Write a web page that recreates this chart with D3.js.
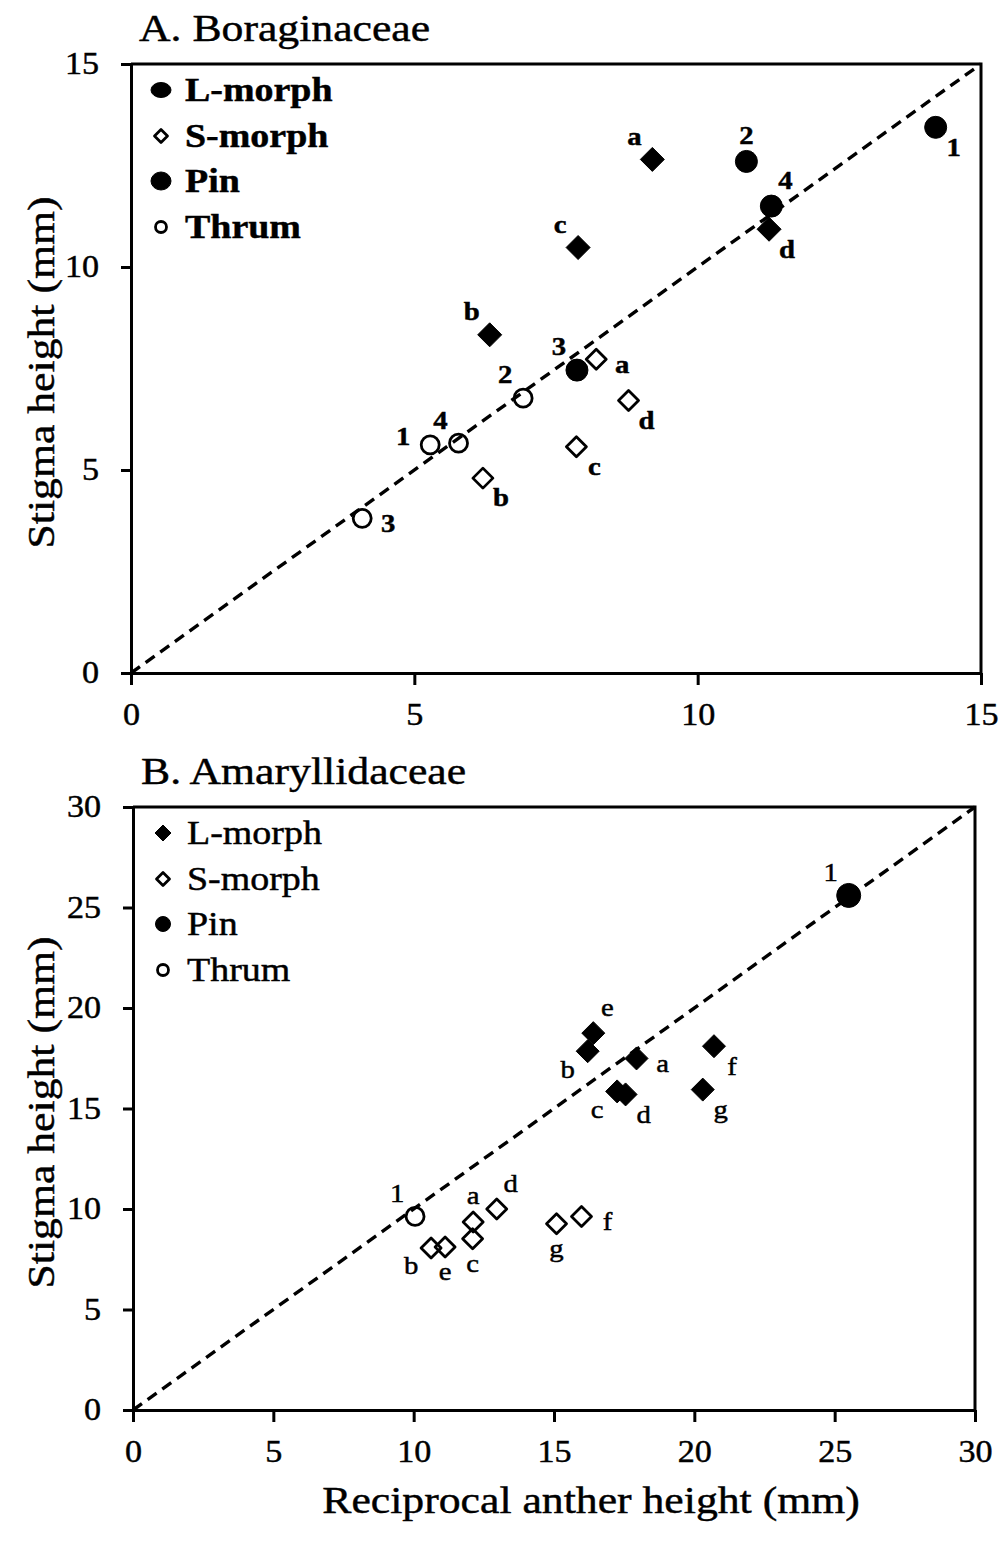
<!DOCTYPE html>
<html>
<head>
<meta charset="utf-8">
<script src="https://cdn.jsdelivr.net/npm/d3@7"></script>
<style>
  body { margin: 0; background: #fff; }
  svg text { font-family: "Liberation Serif", "Times New Roman", serif; fill: #000; stroke: #000; stroke-width: 0.45px; }
</style>
</head>
<body>
<div id="chart"></div>
<script>
// ---- data: panel A, Boraginaceae (x = reciprocal anther height, y = stigma height, mm)
const lMorphA = [
  { id: "a", x: 9.2, y: 12.65 }, { id: "b", x: 6.33, y: 8.33 },
  { id: "c", x: 7.89, y: 10.48 }, { id: "d", x: 11.26, y: 10.93 }
];
const sMorphA = [
  { id: "a", x: 8.21, y: 7.73 }, { id: "b", x: 6.21, y: 4.80 },
  { id: "c", x: 7.86, y: 5.57 }, { id: "d", x: 8.78, y: 6.71 }
];
const pinA = [
  { id: "1", x: 14.2, y: 13.44 }, { id: "2", x: 10.86, y: 12.6 },
  { id: "3", x: 7.87, y: 7.46 }, { id: "4", x: 11.3, y: 11.5 }
];
const thrumA = [
  { id: "1", x: 5.28, y: 5.62 }, { id: "2", x: 6.92, y: 6.77 },
  { id: "3", x: 4.08, y: 3.81 }, { id: "4", x: 5.78, y: 5.66 }
];
const ticksA = [0, 5, 10, 15];

// ---- data: panel B, Amaryllidaceae
const lMorphB = [
  { id: "a", x: 17.94, y: 17.49 }, { id: "b", x: 16.2, y: 17.85 },
  { id: "c", x: 17.25, y: 15.85 }, { id: "d", x: 17.55, y: 15.7 },
  { id: "e", x: 16.4, y: 18.75 }, { id: "f", x: 20.7, y: 18.1 },
  { id: "g", x: 20.3, y: 15.94 }
];
const sMorphB = [
  { id: "a", x: 12.12, y: 9.35 }, { id: "b", x: 10.62, y: 8.06 },
  { id: "c", x: 12.1, y: 8.52 }, { id: "d", x: 12.96, y: 10.0 },
  { id: "e", x: 11.12, y: 8.11 }, { id: "f", x: 15.98, y: 9.63 },
  { id: "g", x: 15.09, y: 9.27 }
];
const pinB = [{ id: "1", x: 25.5, y: 25.6 }];
const thrumB = [{ id: "1", x: 10.05, y: 9.63 }];
const ticksB = [0, 5, 10, 15, 20, 25, 30];

const legendNames = ["L-morph", "S-morph", "Pin", "Thrum"];

// where each point label sits (compass direction from the marker)
const labelDirA = {
  L: { a: "NW", b: "NW", c: "NW", d: "SE" },
  S: { a: "E", b: "SE", c: "SE", d: "SE" },
  Pin: { "1": "SE", "2": "N", "3": "NW", "4": "NE" },
  Thrum: { "1": "W", "2": "NW", "3": "E", "4": "NW" }
};
const labelDirB = {
  L: { a: "E", b: "SW", c: "SW", d: "SE", e: "NE", f: "SE", g: "SE" },
  S: { a: "N", b: "SW", c: "S", d: "NE", e: "S", f: "E", g: "S" },
  Pin: { "1": "NW" },
  Thrum: { "1": "NW" }
};
const dirOffset = {
  N: [0, -26], NE: [14, -25], E: [26, 5], SE: [18, 20],
  S: [0, 25], SW: [-20, 18], W: [-27, -8], NW: [-18, -23]
};

const SX = 1.15; // the scanned figure's type is a little wide
const width = 1007, height = 1555;

const svg = d3.select("#chart").append("svg")
  .attr("width", width)
  .attr("height", height);

function addText(g, x, y, str, size, opt = {}) {
  const rot = opt.rotate ? " rotate(-90)" : "";
  return g.append("text")
    .attr("transform", `translate(${x},${y})${rot} scale(${SX},1)`)
    .attr("text-anchor", opt.anchor || "start")
    .attr("dominant-baseline", "central")
    .style("font-size", size + "px")
    .style("font-weight", opt.bold ? "bold" : "normal")
    .text(str);
}

function diamondPath(h) {
  return `M0,${-h}L${h},0L0,${h}L${-h},0Z`;
}

function drawMarker(g, shape, cx, cy, s) {
  if (shape.kind === "diamond") {
    g.append("path")
      .attr("d", diamondPath(s.h))
      .attr("transform", `translate(${cx},${cy})`)
      .attr("fill", shape.filled ? "#000" : "none")
      .attr("stroke", "#000")
      .attr("stroke-width", shape.filled ? 1 : 2.8)
      .attr("stroke-linejoin", "round");
  } else {
    g.append("ellipse")
      .attr("cx", cx).attr("cy", cy)
      .attr("rx", s.rx).attr("ry", s.ry)
      .attr("fill", shape.filled ? "#000" : "none")
      .attr("stroke", "#000")
      .attr("stroke-width", shape.filled ? 1 : 2.8);
  }
}

function drawPanel(cfg) {
  const g = svg.append("g");
  const x = d3.scaleLinear().domain([0, cfg.max]).range([cfg.left, cfg.right]);
  const y = d3.scaleLinear().domain([0, cfg.max]).range([cfg.bottom, cfg.top]);

  // frame: top and right edges
  g.append("path")
    .attr("d", `M${cfg.left},${cfg.top}H${cfg.right}V${cfg.bottom}`)
    .attr("fill", "none").attr("stroke", "#000").attr("stroke-width", 3);

  const xAxis = g.append("g")
    .attr("transform", `translate(0,${cfg.bottom})`)
    .call(d3.axisBottom(x).tickValues(cfg.ticks).tickSize(12).tickSizeOuter(0).tickPadding(18));
  const yAxis = g.append("g")
    .attr("transform", `translate(${cfg.left},0)`)
    .call(d3.axisLeft(y).tickValues(cfg.ticks).tickSize(10).tickSizeOuter(0));

  const TX = 1.1;
  [xAxis, yAxis].forEach(ax => {
    ax.select(".domain").attr("stroke-width", 3);
    ax.selectAll(".tick line").attr("stroke-width", 3);
    ax.selectAll("text")
      .style("font-family", "Liberation Serif, serif")
      .style("font-size", "31px")
      .attr("transform", `scale(${TX},1)`);
  });
  yAxis.selectAll("text").attr("x", -32 / TX);

  // 1:1 line
  g.append("line")
    .attr("x1", x(0)).attr("y1", y(0))
    .attr("x2", x(cfg.max)).attr("y2", y(cfg.max))
    .attr("stroke", "#000")
    .attr("stroke-width", 3.4)
    .attr("stroke-dasharray", "11,7");

  // points
  cfg.series.forEach(se => {
    se.data.forEach(d => {
      const cx = x(d.x), cy = y(d.y);
      drawMarker(g, se.shape, cx, cy, se.size);
      const off = dirOffset[cfg.labelDir[se.key][d.id]];
      addText(g, cx + off[0], cy + off[1], d.id, 25, { anchor: "middle", bold: cfg.boldLabels });
    });
  });

  // legend
  const legRows = [26, 72, 117, 163];
  cfg.series.forEach((se, i) => {
    const ly = cfg.top + legRows[i];
    drawMarker(g, se.legendShape || se.shape, cfg.left + 30, ly, se.legendSize);
    addText(g, cfg.left + 54, ly, legendNames[i], 33, { bold: cfg.boldLegend });
  });

  // titles
  addText(g, cfg.left + 8, cfg.top - 36, cfg.title, 38);
  addText(g, 41, (cfg.top + cfg.bottom) / 2 + 4, "Stigma height (mm)", 38,
    { anchor: "middle", rotate: true });
  return { x, y };
}

drawPanel({
  left: 131, right: 981, top: 64, bottom: 673, max: 15, ticks: ticksA,
  title: "A. Boraginaceae", labelDir: labelDirA, boldLabels: true, boldLegend: true,
  series: [
    { key: "L", data: lMorphA, shape: { kind: "diamond", filled: true }, size: { h: 12 },
      legendShape: { kind: "circle", filled: true }, legendSize: { rx: 10, ry: 7.5 } },
    { key: "S", data: sMorphA, shape: { kind: "diamond", filled: false }, size: { h: 10 },
      legendSize: { h: 6.5 } },
    { key: "Pin", data: pinA, shape: { kind: "circle", filled: true }, size: { rx: 11, ry: 11 },
      legendSize: { rx: 10, ry: 9 } },
    { key: "Thrum", data: thrumA, shape: { kind: "circle", filled: false }, size: { rx: 9, ry: 9 },
      legendSize: { rx: 5.5, ry: 5.5 } }
  ]
});

drawPanel({
  left: 133, right: 975, top: 807, bottom: 1410, max: 30, ticks: ticksB,
  title: "B. Amaryllidaceae", labelDir: labelDirB, boldLabels: false, boldLegend: false,
  series: [
    { key: "L", data: lMorphB, shape: { kind: "diamond", filled: true }, size: { h: 11.5 },
      legendSize: { h: 8 } },
    { key: "S", data: sMorphB, shape: { kind: "diamond", filled: false }, size: { h: 10 },
      legendSize: { h: 6.5 } },
    { key: "Pin", data: pinB, shape: { kind: "circle", filled: true }, size: { rx: 12, ry: 12 },
      legendSize: { rx: 7.5, ry: 7.5 } },
    { key: "Thrum", data: thrumB, shape: { kind: "circle", filled: false }, size: { rx: 9, ry: 9 },
      legendSize: { rx: 5.5, ry: 5.5 } }
  ]
});

addText(svg, 591, 1500, "Reciprocal anther height (mm)", 38, { anchor: "middle" });
</script>
</body>
</html>
